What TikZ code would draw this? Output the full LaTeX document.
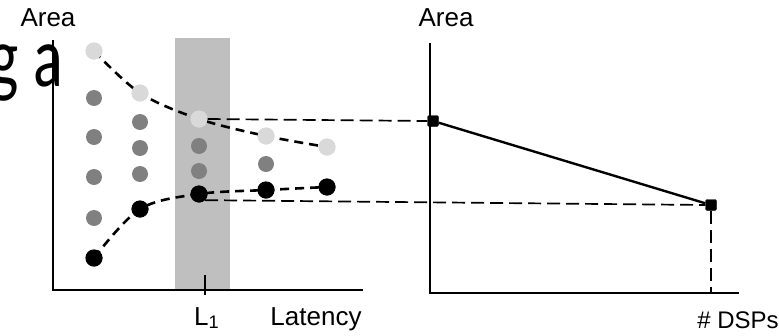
\documentclass[tikz,border=0pt]{standalone}
\usepackage{fontspec}
\setmainfont{Liberation Sans}
\newfontfamily\carlito{Carlito}
\usepackage{graphicx}
\definecolor{lightdot}{HTML}{D9D9D9}
\definecolor{darkdot}{HTML}{808080}
\definecolor{bandgray}{HTML}{BFBFBF}
\begin{document}
\begin{tikzpicture}[x=1pt,y=-1pt,
  axis/.style={line width=1.6pt, black},
  curve/.style={line width=2.6pt, dash pattern=on 9pt off 6pt},
  guide/.style={line width=1.7pt, dash pattern=on 13pt off 6pt},
  ldot/.style={circle, fill=lightdot, draw=none, minimum size=17pt, inner sep=0},
  gdot/.style={circle, fill=darkdot, draw=none, minimum size=16pt, inner sep=0},
  bdot/.style={circle, fill=black, draw=none, minimum size=17pt, inner sep=0},
  sq/.style={rectangle, fill=black, draw=black, rounded corners=1.5pt, minimum size=11pt, inner sep=0},
  lbl/.style={font=\fontsize{26}{28}\selectfont, inner sep=0, anchor=base}
]
\useasboundingbox (0,0) rectangle (779,335);
% background title fragment
\node[anchor=base east, inner sep=0, font=\carlito\fontsize{86}{86}\selectfont] (title) at (63,86) {\scalebox{0.72}[1]{g a}};
% band
\fill[bandgray] (175,38) rectangle (230,290);
% left axes
\coordinate (O1) at (53,290);
\coordinate (Y1) at (53,40);
\coordinate (X1) at (363,290);
\draw[axis] (Y1) -- (O1) -- (X1);
\coordinate (T1a) at (205,275);
\coordinate (T1b) at (205,295);
\draw[axis] (T1a) -- (T1b);
% dot positions
\node[ldot] (l1) at (94,51) {};
\node[ldot] (l2) at (140,93) {};
\node[ldot] (l3) at (199,119) {};
\node[ldot] (l4) at (266,136) {};
\node[ldot] (l5) at (327,147) {};
\node[gdot] (g11) at (94,98) {};
\node[gdot] (g12) at (94,137) {};
\node[gdot] (g13) at (94,177) {};
\node[gdot] (g14) at (94,218) {};
\node[gdot] (g21) at (140,122) {};
\node[gdot] (g22) at (140,148) {};
\node[gdot] (g23) at (140,174) {};
\node[gdot] (g31) at (199,146) {};
\node[gdot] (g32) at (199,171) {};
\node[gdot] (g41) at (266,164) {};
\node[bdot] (b1) at (94,258) {};
\node[bdot] (b2) at (140,209) {};
\node[bdot] (b3) at (199,194) {};
\node[bdot] (b4) at (266,190) {};
\node[bdot] (b5) at (327,187) {};
% dashed trade-off curves
\draw[curve] plot[smooth, tension=0.55] coordinates {(l1) (l2) (l3) (l4) (l5)};
\draw[curve] plot[smooth, tension=0.55] coordinates {(b1) (b2) (b3) (b4) (b5)};
% dots over the curves
\foreach \n in {l1,l2,l3,l4,l5}{\fill[lightdot] (\n) circle (8.5pt);}
\foreach \n in {b1,b2,b3,b4,b5}{\fill[black] (\n) circle (8.5pt);}
% right axes
\coordinate (O2) at (430,293);
\coordinate (Y2) at (430,43);
\coordinate (X2) at (739,293);
\draw[axis] (Y2) -- (O2) -- (X2);
\node[sq] (s1) at (433,121) {};
\node[sq] (s2) at (711,205) {};
% guides
\draw[guide] (l3.east) -- (s1.west);
\draw[guide] (b3.south east) -- (s2.west);
\draw[guide] (s2.south) -- (s2 |- O2);
\draw[line width=2.4pt] (s1) -- (s2);
% labels
\node[lbl] (areaL) at (48,26) {Area};
\node[lbl] (areaR) at (446,26) {Area};
\node[lbl, anchor=base west] (L1) at (194,325) {L\textsubscript{1}};
\node[lbl] (lat) at (316,325) {Latency};
\node[lbl, font=\fontsize{24}{26}\selectfont] (dsp) at (738,328) {\# DSPs};
\end{tikzpicture}
\end{document}
